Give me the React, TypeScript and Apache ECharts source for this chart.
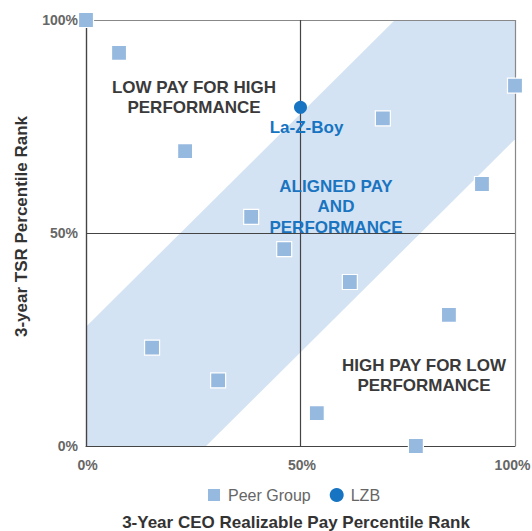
import React, { useEffect, useRef } from "react";
import * as echarts from "echarts";

const peerX = [0, 7.7, 23.1, 38.5, 69.2, 100, 92.3, 46.2, 15.4, 30.8, 61.5, 84.6, 53.8, 76.9];
const peerY = [100, 92.3, 69.2, 53.8, 76.9, 84.6, 61.5, 46.2, 23.1, 15.4, 38.5, 30.8, 7.7, 0];
const lzbPoint = [50, 79.5];
const bandX = [0, 0, 72, 100, 100, 28];
const bandY = [0, 28, 100, 100, 72, 0];
const tickValues = [0, 50, 100];
const xTitle = "3-Year CEO Realizable Pay Percentile Rank";
const yTitle = "3-year TSR Percentile Rank";
const FONT = "'Liberation Sans', Arial, Helvetica, sans-serif";

export default function App() {
  const ref = useRef<HTMLDivElement>(null);
  useEffect(() => {
    if (!ref.current) return;
    const chart = echarts.init(ref.current, null, { renderer: "svg" });
    const peerData = peerX.map((x, i) => [x, peerY[i]]);
    const labelStyle = {
      color: "#666",
      fontWeight: "bold",
      fontSize: 14,
      fontFamily: FONT,
    };
    chart.setOption({
      animation: false,
      textStyle: { fontFamily: FONT },
      grid: {
        left: 86,
        right: 17,
        top: 20,
        bottom: 85,
        containLabel: false,
        outerBoundsMode: "none",
      },
      legend: {
        top: 482,
        left: 201,
        itemWidth: 14,
        itemHeight: 14,
        itemGap: 19,
        textStyle: { fontSize: 16, color: "#666", fontFamily: FONT, padding: [0, 0, 0, 2] },
        data: [
          { name: "Peer Group", icon: "rect" },
          { name: "LZB", icon: "circle" },
        ],
      },
      xAxis: {
        type: "value",
        min: 0,
        max: 100,
        interval: 50,
        z: 1,
        axisLine: { show: true, lineStyle: { color: "#444", width: 1.2 } },
        axisTick: { show: false },
        axisLabel: {
          ...labelStyle,
          formatter: (v: number) =>
            v === 100 ? "{e|100%}" : tickValues.includes(v) ? "{n|" + v + "%}" : "",
          margin: 12,
          rich: {
            n: { ...labelStyle, padding: [0, 0, 0, 3] },
            e: { ...labelStyle, padding: [0, 5, 0, 0] },
          },
        },
        splitLine: { show: true, lineStyle: { color: ["#444", "#444", "#888"], width: 1.2 } },
      },
      yAxis: {
        type: "value",
        min: 0,
        max: 100,
        interval: 50,
        z: 1,
        axisLine: { show: true, lineStyle: { color: "#444", width: 1.2 } },
        axisTick: { show: false },
        axisLabel: {
          ...labelStyle,
          formatter: (v: number) => (tickValues.includes(v) ? v + "%" : ""),
          margin: 8,
          padding: [4, 0, 0, 0],
        },
        splitLine: { show: true, lineStyle: { color: ["#444", "#444", "#888"], width: 1.2 } },
      },
      series: [
        {
          type: "custom",
          name: "band",
          z: 0,
          silent: true,
          data: [[0, 0]],
          renderItem: (params: any, api: any) => {
            const points = bandX.map((x, i) => api.coord([x, bandY[i]]));
            return { type: "polygon", shape: { points }, style: { fill: "#d4e3f3" } };
          },
        },
        {
          type: "scatter",
          name: "Peer Group",
          symbol: "rect",
          symbolSize: 15,
          z: 3,
          itemStyle: { color: "#96b9df", borderColor: "#fff", borderWidth: 1.2, opacity: 1 },
          data: peerData,
        },
        {
          type: "scatter",
          name: "LZB",
          symbol: "circle",
          symbolSize: 13,
          z: 4,
          itemStyle: { color: "#1674c2", opacity: 1 },
          label: {
            show: true,
            position: "bottom",
            distance: 4,
            offset: [6, 1],
            formatter: "La-Z-Boy",
            color: "#1674c2",
            fontWeight: "bold",
            fontSize: 17,
            fontFamily: FONT,
          },
          data: [lzbPoint],
        },
      ],
      graphic: [
        {
          type: "text",
          x: 296,
          y: 522,
          z: 10,
          style: {
            text: xTitle,
            fill: "#333",
            font: `bold 17px ${FONT}`,
            align: "center",
            verticalAlign: "middle",
          },
        },
        {
          type: "text",
          x: 21,
          y: 226.5,
          rotation: Math.PI / 2,
          z: 10,
          style: {
            text: yTitle,
            fill: "#333",
            font: `bold 17px ${FONT}`,
            align: "center",
            verticalAlign: "middle",
          },
        },
        {
          type: "text",
          x: 194,
          y: 77,
          z: 10,
          style: {
            text: "LOW PAY FOR HIGH\nPERFORMANCE",
            fill: "#3a3a3a",
            font: `bold 17px ${FONT}`,
            align: "center",
            lineHeight: 20,
          },
        },
        {
          type: "text",
          x: 336,
          y: 176,
          z: 10,
          style: {
            text: "ALIGNED PAY\nAND\nPERFORMANCE",
            fill: "#1a74c0",
            font: `bold 17px ${FONT}`,
            align: "center",
            lineHeight: 20.5,
          },
        },
        {
          type: "text",
          x: 424,
          y: 356,
          z: 10,
          style: {
            text: "HIGH PAY FOR LOW\nPERFORMANCE",
            fill: "#3a3a3a",
            font: `bold 17px ${FONT}`,
            align: "center",
            lineHeight: 19.5,
          },
        },
      ],
    });
    return () => chart.dispose();
  }, []);
  return (
    <div
      ref={ref}
      style={{ width: 532, height: 531, position: "absolute", left: 0, top: 0, overflow: "hidden" }}
    />
  );
}
